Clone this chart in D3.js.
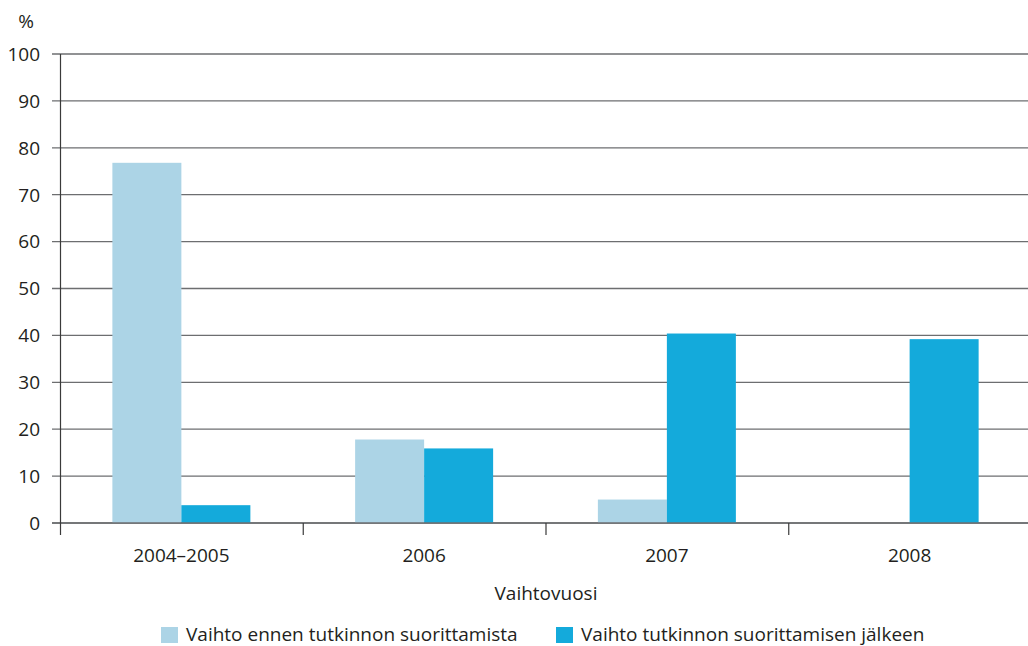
<!DOCTYPE html>
<html><head><meta charset="utf-8">
<script src="https://cdn.jsdelivr.net/npm/d3@7"></script>
<style>body{margin:0;background:#fff}svg{display:block}text{font-family:"Open Sans",sans-serif;fill:#231f20}</style>
</head><body>
<script>
const categories = ["2004–2005", "2006", "2007", "2008"];
const seriesNames = ["Vaihto ennen tutkinnon suorittamista", "Vaihto tutkinnon suorittamisen jälkeen"];
const before = [76.8, 17.8, 5.0, null];
const after = [3.8, 15.9, 40.4, 39.2];
const yTicks = [0, 10, 20, 30, 40, 50, 60, 70, 80, 90, 100];
const colors = ["#acd4e6", "#14aadb"];

const W = 1028, H = 646;
const svg = d3.select("body").append("svg").attr("width", W).attr("height", H);
const x = d3.scaleBand().domain(categories).range([60, 1031]).paddingInner(0);
const y = d3.scaleLinear().domain([0, 100]).range([523, 54]);
const barW = 69;

// gridlines
svg.append("g").selectAll("line").data(yTicks).join("line")
  .attr("x1", 52).attr("x2", W).attr("y1", d => y(d)).attr("y2", d => y(d))
  .attr("stroke", "#6d6e70").attr("stroke-width", 1.3);

// y labels
svg.append("g").selectAll("text").data(yTicks).join("text")
  .attr("x", 40).attr("y", d => y(d)).attr("dy", "0.36em").attr("text-anchor", "end")
  .attr("font-size", 19).text(d => d);
svg.append("text").attr("x", 26).attr("y", 21).attr("dy", "0.36em").attr("text-anchor", "middle")
  .attr("font-size", 19).text("%");

// bars
const data = categories.map((c, i) => ({c, v: [before[i], after[i]]}));
const g = svg.append("g");
data.forEach(d => {
  d.v.forEach((v, k) => {
    if (v == null) return;
    const cx = x(d.c) + x.bandwidth() / 2;
    g.append("rect")
      .attr("x", cx + (k === 0 ? -barW : 0)).attr("width", barW)
      .attr("y", y(v)).attr("height", y(0) - y(v))
      .attr("fill", colors[k]);
  });
});

// baseline
svg.append("line").attr("x1", 52).attr("x2", W).attr("y1", y(0)).attr("y2", y(0))
  .attr("stroke", "#6d6e70").attr("stroke-width", 1.3);
// y axis line
svg.append("line").attr("x1", 60.5).attr("x2", 60.5).attr("y1", y(100)).attr("y2", 535)
  .attr("stroke", "#3a3a3a").attr("stroke-width", 1.2);
// x ticks
svg.append("g").selectAll("line").data(categories.slice(1)).join("line")
  .attr("x1", d => x(d) + 0.5).attr("x2", d => x(d) + 0.5).attr("y1", y(0)).attr("y2", 535)
  .attr("stroke", "#3a3a3a").attr("stroke-width", 1.2);

// x labels
svg.append("g").selectAll("text").data(categories).join("text")
  .attr("x", d => x(d) + x.bandwidth() / 2).attr("y", 555).attr("dy", "0.36em")
  .attr("text-anchor", "middle").attr("font-size", 19).text(d => d);

svg.append("text").attr("x", 546).attr("y", 593).attr("dy", "0.36em")
  .attr("text-anchor", "middle").attr("font-size", 19).text("Vaihtovuosi");

// legend
const legX = [161, 556];
seriesNames.forEach((n, k) => {
  svg.append("rect").attr("x", legX[k]).attr("y", 627).attr("width", 17).attr("height", 16).attr("fill", colors[k]);
  svg.append("text").attr("x", legX[k] + 25).attr("y", 634).attr("dy", "0.36em")
    .attr("font-size", 19).text(n);
});
</script>
</body></html>
